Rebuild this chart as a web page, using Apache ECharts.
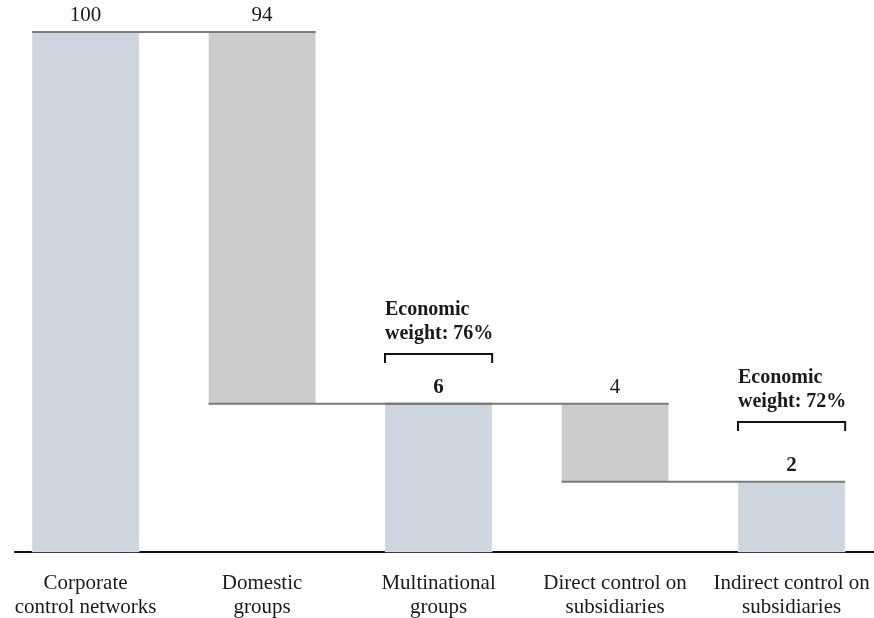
<!DOCTYPE html>
<html>
<head>
<meta charset="utf-8">
<script src="https://cdn.jsdelivr.net/npm/echarts@6/dist/echarts.min.js"></script>
<style>html,body{margin:0;padding:0;background:#fff;}#c{width:874px;height:618px;}</style>
</head>
<body>
<div id="c"></div>
<script>
const categories = ['Corporate\ncontrol networks', 'Domestic\ngroups', 'Multinational\ngroups', 'Direct control on\nsubsidiaries', 'Indirect control on\nsubsidiaries'];
const categoryPos = [0, 1, 2, 3, 4];
const barBottom = [0, 28.5, 0, 13.5, 0];
const barTop = [100, 100, 28.5, 28.5, 13.5];
const shareLabels = ['100', '94', '6', '4', '2'];
const connectors = [[0, 1, 100], [1, 2, 28.5], [2, 3, 28.5], [3, 4, 13.5]];
const annotations = [[2, 38.1, 'Economic\nweight: 76%'], [4, 25, 'Economic\nweight: 72%']];

const FONT = '"Liberation Serif", "DejaVu Serif", serif';
const TEXT = '#1a1a1a';
const colors = ['#cdd5df', '#cdcbcc', '#cdd5df', '#cdcbcc', '#cdd5df'];
const boldIdx = [2, 4];
const BAR_RATIO = 0.607;

const chart = echarts.init(document.getElementById('c'));
chart.setOption({
  animation: false,
  backgroundColor: '#fff',
  grid: { left: 15, right: 0, top: 32, bottom: 66 },
  xAxis: { type: 'value', min: -0.4, max: 4.467,
    axisLine: { show: true, onZero: false, lineStyle: { color: '#111', width: 2 } },
    axisTick: { show: false }, axisLabel: { show: false }, splitLine: { show: false } },
  yAxis: { type: 'value', min: 0, max: 100,
    axisLine: { show: true, lineStyle: { color: '#111', width: 2 } },
    axisTick: { show: false }, axisLabel: { show: false }, splitLine: { show: false } },
  series: [
    {
      type: 'custom', z: 2,
      data: categories.map((c, i) => [categoryPos[i], barBottom[i], barTop[i]]),
      encode: { x: 0, y: [1, 2] },
      renderItem: function (params, api) {
        const idx = params.dataIndex;
        const x = api.value(0);
        const p0 = api.coord([x, api.value(1)]);
        const p1 = api.coord([x, api.value(2)]);
        const base = api.coord([x, 0]);
        const w = api.size([1, 0])[0] * BAR_RATIO;
        const bold = boldIdx.indexOf(idx) >= 0;
        return {
          type: 'group',
          children: [
            { type: 'rect', shape: { x: p0[0] - w / 2, y: p1[1], width: w, height: p0[1] - p1[1] },
              style: { fill: colors[idx], stroke: 'rgba(255,255,255,0.35)', lineWidth: 1 } },
            { type: 'text', x: p1[0], y: p1[1] - 6,
              style: { text: shareLabels[idx], fill: TEXT, fontFamily: FONT, fontSize: 21,
                fontWeight: bold ? 'bold' : 'normal', align: 'center', verticalAlign: 'bottom' } },
            { type: 'text', x: base[0], y: base[1] + 19,
              style: { text: categories[idx], fill: TEXT, fontFamily: FONT, fontSize: 21, lineHeight: 24,
                align: 'center', verticalAlign: 'top' } }
          ]
        };
      }
    },
    {
      type: 'custom', z: 3,
      data: connectors,
      encode: { x: [0, 1], y: 2 },
      renderItem: function (params, api) {
        const a = api.coord([api.value(0), api.value(2)]);
        const b = api.coord([api.value(1), api.value(2)]);
        const w = api.size([1, 0])[0] * BAR_RATIO;
        return { type: 'line', shape: { x1: a[0] - w / 2, y1: a[1], x2: b[0] + w / 2, y2: b[1] },
          style: { stroke: '#7a7a7a', lineWidth: 2 } };
      }
    },
    {
      type: 'custom', z: 3,
      data: annotations.map(a => [a[0], a[1]]),
      encode: { x: 0, y: 1 },
      renderItem: function (params, api) {
        const p = api.coord([api.value(0), api.value(1)]);
        const w = api.size([1, 0])[0] * BAR_RATIO;
        const l = p[0] - w / 2, r = p[0] + w / 2;
        return {
          type: 'group',
          children: [
            { type: 'polyline', shape: { points: [[l, p[1] + 9], [l, p[1]], [r, p[1]], [r, p[1] + 9]] },
              style: { stroke: '#111', lineWidth: 2, fill: null } },
            { type: 'text', x: l, y: p[1] - 8,
              style: { text: annotations[params.dataIndex][2], fill: TEXT, fontFamily: FONT, fontSize: 20,
                fontWeight: 'bold', lineHeight: 24, align: 'left', verticalAlign: 'bottom' } }
          ]
        };
      }
    }
  ]
});
</script>
</body>
</html>
